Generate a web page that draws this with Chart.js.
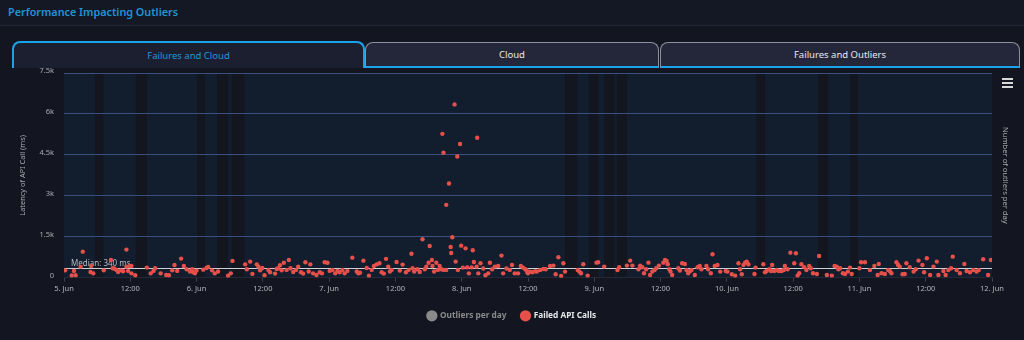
<!DOCTYPE html>
<html>
<head>
<meta charset="utf-8">
<script src="https://cdn.jsdelivr.net/npm/chart.js@4.4.1/dist/chart.umd.min.js"></script>
<style>
  html, body { margin:0; padding:0; background:#131621; width:1024px; height:340px; overflow:hidden; font-family:"Noto Sans", "Open Sans", sans-serif; }
  #hdr { position:absolute; left:0; top:0; width:1024px; height:25px; background:#141824; border-bottom:1px solid #242838; }
  #hdr span { position:absolute; left:8px; top:4px; font-size:10.8px; color:#1d95d8; font-weight:600; }
  .tab { position:absolute; box-sizing:border-box; text-align:center; font-size:9.5px; border-radius:8px 8px 0 0; }
  #t1 { left:12px; top:41px; width:353px; height:27px; border:2px solid #1aa3e8; border-bottom:none; background:#1b1f30; color:#1f98d8; line-height:25px; }
  #t2 { left:365px; top:42px; width:294px; height:26px; border:1px solid #8d909c; border-bottom:2px solid #1aa3e8; background:#24273a; color:#e8e8ec; line-height:23px; }
  #t3 { left:660px; top:42px; width:360px; height:26px; border:1px solid #8d909c; border-bottom:2px solid #1aa3e8; background:#24273a; color:#e8e8ec; line-height:23px; }
  #wrap { position:absolute; left:0; top:67px; width:1024px; height:273px; }
  #menu { position:absolute; left:1002px; top:78px; width:11px; }
  #menu div { height:2px; background:#d8d8d8; margin-bottom:2px; }
</style>
</head>
<body>
<div id="hdr"><span>Performance Impacting Outliers</span></div>
<div class="tab" id="t1">Failures and Cloud</div>
<div class="tab" id="t2">Cloud</div>
<div class="tab" id="t3">Failures and Outliers</div>
<div id="wrap"><canvas id="c" width="1024" height="273"></canvas></div>
<div id="menu"><div></div><div></div><div></div></div>
<script>
// Hours since 5 Jun 00:00
const hours = [
0.2,1.4,1.8,2.1,3.0,3.4,4.8,4.9,5.3,7.2,8.5,8.8,9.1,9.5,9.8,10.3,10.7,11.3,11.3,11.6,11.9,12.2,12.2,12.9,
15.0,15.7,16.2,16.5,17.5,18.5,19.0,19.6,20.0,20.5,21.2,21.7,22.2,22.8,23.2,23.4,23.7,24.0,25.2,25.8,26.1,26.8,27.3,27.9,
29.7,30.2,30.5,32.8,33.1,33.7,34.1,34.9,35.2,35.5,35.9,36.3,37.0,37.3,38.2,38.5,38.8,39.1,39.4,39.8,40.3,40.7,41.0,41.5,
42.0,42.4,42.9,43.3,43.7,44.3,44.6,45.1,45.7,46.3,46.7,47.2,47.7,48.1,48.6,49.1,49.5,49.9,50.4,50.8,51.3,52.2,53.0,53.3,
53.6,54.2,54.8,55.2,55.7,56.1,56.6,57.1,57.5,57.9,58.3,58.7,59.0,59.3,60.2,60.8,61.3,61.9,62.4,62.9,63.1,63.4,64.0,64.4,
64.9,65.3,65.6,66.0,66.2,66.6,66.7,67.0,67.4,67.7,68.0,68.3,68.5,68.7,68.7,69.2,69.2,69.7,70.0,70.1,70.3,70.7,70.9,71.2,
71.3,71.7,71.9,72.2,72.7,73.0,73.3,73.8,74.0,74.2,74.7,74.8,75.0,75.4,75.9,76.3,76.8,77.1,77.5,78.0,78.6,79.2,79.5,80.1,
80.7,81.1,81.6,82.2,82.7,83.1,83.7,84.0,
83.5,83.9,84.4,84.8,85.3,85.6,86.2,86.8,87.2,88.0,88.6,89.0,89.5,90.0,90.4,90.7,93.0,93.3,93.6,94.0,94.8,96.4,96.7,97.8,
100.2,100.5,101.9,102.5,102.9,104.0,104.3,104.7,105.0,105.4,105.8,106.1,106.5,106.9,107.2,107.7,108.5,108.8,109.1,109.3,
109.6,109.8,110.1,111.2,111.5,111.9,112.4,112.7,113.0,113.3,113.6,114.2,114.7,115.1,115.4,116.3,116.6,117.1,117.4,117.8,
118.3,118.8,119.8,120.1,120.9,121.5,122.1,122.4,122.7,123.0,123.3,123.6,123.9,125.0,125.2,126.6,126.9,127.2,127.7,128.0,
128.2,128.6,129.0,129.4,129.9,130.3,130.5,131.0,131.5,132.2,132.5,132.8,133.1,133.5,134.0,134.4,134.9,135.2,135.6,136.3,
136.7,138.1,139.0,139.5,139.9,140.2,140.5,141.0,141.4,141.9,142.3,142.6,144.0,144.3,145.0,145.9,146.7,147.3,147.5,148.0,
148.6,149.2,149.5,149.8,150.7,151.0,151.3,151.8,152.2,152.5,153.1,153.8,154.2,154.7,155.4,155.7,156.2,156.8,157.4,158.0,
158.3,159.2,159.6,160.1,160.6,160.9,161.6,162.2,163.0,163.4,164.0,164.6,165.2,165.6,166.4,167.3,167.8
];
// Latency of failed API calls (ms)
const latency = [
270,80,250,90,405,955,210,430,160,270,650,345,335,285,210,270,235,1030,405,250,430,430,160,90,
370,160,250,345,160,100,90,270,465,250,700,430,310,225,310,200,160,260,295,355,395,270,160,225,
75,160,615,490,310,590,140,490,405,270,355,90,285,200,150,320,345,455,270,550,285,650,345,210,
285,405,200,150,565,225,490,160,100,200,160,565,550,250,285,160,250,200,285,160,250,735,225,160,
185,625,355,75,285,430,490,530,200,150,690,405,225,285,575,260,480,200,285,880,345,225,310,210,
1410,310,405,550,1160,650,430,225,550,285,430,310,5270,4580,285,2670,285,3450,1125,905,1480,6350,590,4440,
285,4900,1175,370,1075,380,160,380,1005,575,405,5130,160,530,335,90,160,550,310,405,430,810,160,335,
285,465,160,160,430,370,285,160,
308,199,223,199,235,223,284,321,308,430,443,125,748,65,528,223,284,223,162,491,77,552,565,406,
284,382,443,626,443,308,443,382,162,308,552,101,223,284,345,443,552,650,613,491,
308,223,101,345,260,528,504,284,162,235,284,101,382,430,308,430,308,162,857,430,
467,223,247,223,125,77,528,308,125,467,552,589,491,138,370,491,199,247,308,247,
467,247,284,247,247,284,430,308,918,528,894,77,162,491,382,284,430,345,162,138,
796,101,77,430,406,308,345,162,138,223,370,138,345,565,565,284,430,101,504,162,
138,284,247,162,565,467,406,125,138,528,382,223,308,626,467,199,711,101,406,589,
101,247,101,284,345,772,284,162,504,247,199,284,223,284,674,101,650
];
const seriesNames = ["Outliers per day", "Failed API Calls"];
const yTickValues = [0, 1500, 3000, 4500, 6000, 7500];
const yTickLabels = ["0", "1.5k", "3k", "4.5k", "6k", "7.5k"];
const dayLabels = ["5. Jun","6. Jun","7. Jun","8. Jun","9. Jun","10. Jun","11. Jun","12. Jun"];
const MEDIAN = 340;
// darker plot bands (hours since 5 Jun 00:00)
const bandStart = [5.6, 13.0, 24.1, 27.7, 30.4, 90.7, 95.0, 97.8, 100.1, 125.3, 136.5, 142.3];
const bandEnd   = [7.1, 15.0, 25.5, 29.7, 32.6, 92.9, 96.7, 99.6, 101.9, 126.9, 138.3, 143.7];

const points = hours.map((h, i) => ({x: h, y: latency[i]}));

const FONT = "'Noto Sans', 'Open Sans', sans-serif";

const bgPlugin = {
  id: 'bg',
  beforeDraw(chart) {
    const {ctx, chartArea: a, scales} = chart;
    ctx.save();
    ctx.fillStyle = '#121d2e';
    ctx.fillRect(a.left, a.top, a.right - a.left, a.bottom - a.top);
    ctx.fillStyle = '#13161f';
    for (let i = 0; i < bandStart.length; i++) {
      const x1 = scales.x.getPixelForValue(bandStart[i]);
      const x2 = scales.x.getPixelForValue(bandEnd[i]);
      ctx.fillRect(x1, a.top, x2 - x1, a.bottom - a.top);
    }
    ctx.restore();
  },
  beforeDatasetsDraw(chart) {
    const {ctx, chartArea: a, scales} = chart;
    const y = Math.round(scales.y.getPixelForValue(MEDIAN)) + 0.5;
    ctx.save();
    ctx.strokeStyle = '#cfd0d4';
    ctx.lineWidth = 1;
    ctx.beginPath();
    ctx.moveTo(a.left, y);
    ctx.lineTo(a.right, y);
    ctx.stroke();
    ctx.fillStyle = '#b8bac0';
    ctx.font = '8px ' + FONT;
    ctx.textBaseline = 'alphabetic';
    ctx.fillText('Median: ' + MEDIAN + ' ms', a.left + 7, y - 3);
    ctx.restore();
  }
};

new Chart(document.getElementById('c'), {
  type: 'scatter',
  data: {
    datasets: [
      { label: seriesNames[0], data: [], backgroundColor: '#8a8a8a', borderColor: '#8a8a8a', yAxisID: 'y2' },
      { label: seriesNames[1], data: points, backgroundColor: '#e5504a', borderColor: '#e5504a', borderWidth: 0, pointRadius: 2.2, pointHoverRadius: 2.5 }
    ]
  },
  options: {
    responsive: false,
    animation: false,
    events: [],
    layout: { padding: { top: 6, left: 0, right: 0, bottom: 10 } },
    scales: {
      x: {
        type: 'linear', min: 0, max: 168,
        afterBuildTicks: (s) => { const t = []; for (let h = 0; h <= 168; h += 12) t.push({value: h}); s.ticks = t; },
        afterFit: (s) => { s.height = 19; },
        ticks: {
          color: '#b4b6bc', font: { size: 7.5, family: FONT }, padding: 3, maxRotation: 0, autoSkip: false,
          callback: (v) => (v % 24 === 0 ? dayLabels[v / 24] : '12:00')
        },
        grid: { drawOnChartArea: false, color: '#3a3e4e', tickLength: 4 },
        border: { color: '#252937' }
      },
      y: {
        min: 0, max: 7500,
        afterBuildTicks: (s) => { s.ticks = yTickValues.map(v => ({value: v})); },
        afterFit: (s) => { s.width = 64; },
        ticks: {
          color: '#a8aab0', font: { size: 7.5, family: FONT }, padding: 0, labelOffset: -2,
          callback: (v) => yTickLabels[yTickValues.indexOf(v)]
        },
        grid: { color: (c) => (c.tick && c.tick.value === 0 ? 'rgba(0,0,0,0)' : '#3a5080'), drawTicks: true, tickLength: 10, tickColor: 'rgba(0,0,0,0)', lineWidth: 1 },
        border: { display: false },
        title: { display: true, text: 'Latency of API Call (ms)', color: '#a8aab0', font: { size: 7.4, family: FONT }, padding: { top: 18, bottom: 0 } }
      },
      y2: {
        position: 'right', min: 0, max: 10,
        afterFit: (s) => { s.width = 32; },
        ticks: { display: false },
        grid: { display: false },
        border: { display: false },
        title: { display: true, text: 'Number of outliers per day', color: '#a8aab0', font: { size: 7.6, family: FONT }, padding: { top: 14, bottom: 0 } }
      }
    },
    plugins: {
      tooltip: { enabled: false },
      legend: {
        position: 'bottom',
        labels: {
          usePointStyle: true, pointStyle: 'circle', boxWidth: 8, boxHeight: 8, padding: 15,
          font: { size: 8.3, weight: 'bold', family: FONT },
          generateLabels: (chart) => chart.data.datasets.map((d, i) => ({
            text: d.label, fillStyle: d.backgroundColor, strokeStyle: d.backgroundColor, lineWidth: 0,
            pointStyle: 'circle', hidden: false, datasetIndex: i,
            fontColor: i === 0 ? '#8a8a8a' : '#e8e8ec'
          }))
        }
      }
    }
  },
  plugins: [bgPlugin]
});
</script>
</body>
</html>
